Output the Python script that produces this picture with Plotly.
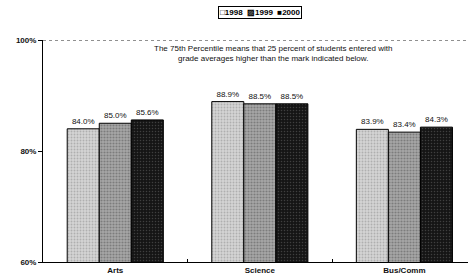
import plotly.graph_objects as go

categories = ["Arts", "Science", "Bus/Comm"]
years = ["1998", "1999", "2000"]
v1998 = [84.0, 88.9, 83.9]
v1999 = [85.0, 88.5, 83.4]
v2000 = [85.6, 88.5, 84.3]
ytick_vals = [60, 80, 100]
ytick_text = ["60%", "80%", "100%"]
legend_symbols = ["□", "▨", "■"]
note = ("The 75th Percentile means that 25 percent of students entered with<br>"
        "grade averages higher than the mark indicated below.")

series = [v1998, v1999, v2000]
styles = [
    dict(color="#d4d4d4", pattern=dict(shape=".", fgcolor="#8a8a8a", size=3, solidity=0.3)),
    dict(color="#a8a8a8", pattern=dict(shape=".", fgcolor="#505050", size=3, solidity=0.4)),
    dict(color="#151515", pattern=dict(shape=".", fgcolor="#6a6a6a", size=3, solidity=0.2)),
]

fig = go.Figure()
for name, vals, st in zip(years, series, styles):
    fig.add_trace(go.Bar(
        x=categories, y=vals, name=name,
        marker=dict(color=st["color"], pattern=st["pattern"],
                    line=dict(color="#000000", width=1)),
        text=[f"{v:.1f}%" for v in vals], textposition="outside",
        textfont=dict(size=8, color="#111111", family="Liberation Sans"),
        cliponaxis=False,
    ))

legend_text = "  ".join(f"{s}{y}" for s, y in zip(legend_symbols, years))

fig.update_layout(
    width=471, height=277,
    margin=dict(l=43, r=3, t=40, b=15),
    paper_bgcolor="white", plot_bgcolor="white",
    barmode="group", bargap=0.335, bargroupgap=0,
    font=dict(family="Liberation Sans", size=8, color="#111111"),
    showlegend=False,
    xaxis=dict(range=[-0.5, 2.44],
               showline=True, linecolor="#000000", linewidth=1,
               ticks="inside", ticklen=3, tickson="boundaries", tickcolor="#000000",
               tickfont=dict(size=8, family="Liberation Sans", weight="bold"),
               showgrid=False, automargin=False),
    yaxis=dict(range=[60, 100], tickvals=ytick_vals, ticktext=ytick_text,
               showline=True, linecolor="#000000", linewidth=1,
               ticks="outside", ticklen=4, tickcolor="#000000",
               tickfont=dict(size=8, family="Liberation Sans", weight="bold"),
               showgrid=False, zeroline=False, automargin=False),
    annotations=[
        dict(text=note, xref="paper", yref="paper", x=0.542, y=0.99,
             xanchor="center", yanchor="top", showarrow=False,
             font=dict(size=8, family="Liberation Sans", color="#111111")),
        dict(text=legend_text, xref="paper", yref="paper", x=0.51, y=1.155,
             xanchor="center", yanchor="top", showarrow=False,
             bordercolor="#000000", borderwidth=1, borderpad=1,
             font=dict(size=8, family="Liberation Sans", color="#000000", weight="bold")),
    ],
    shapes=[dict(type="line", xref="paper", yref="y", x0=0, x1=1, y0=100, y1=100,
                 line=dict(color="#222222", width=1, dash="dot"))],
)

fig.write_html("out.html", config={"displayModeBar": False},
               post_script="document.body.style.margin='0';")
